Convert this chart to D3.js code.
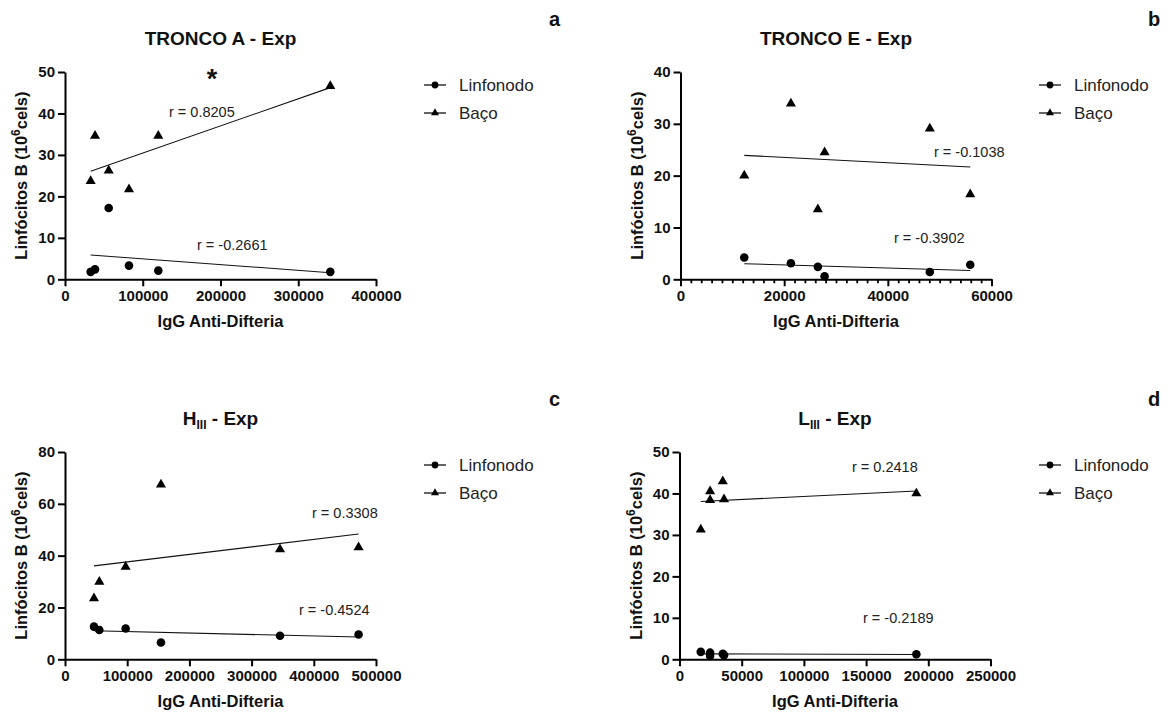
<!DOCTYPE html>
<html>
<head>
<meta charset="utf-8">
<script src="https://cdn.jsdelivr.net/npm/d3@7"></script>
<style>
  body { margin: 0; background: #fff; }
  svg { font-family: Arial, "Liberation Sans", sans-serif; }
</style>
</head>
<body>
<svg id="chart" width="1172" height="715"></svg>
<script>

// *** Data ***

var seriesNames = ["Linfonodo", "Baço"];
var xAxisTitle = "IgG Anti-Difteria";

// TRONCO A - Exp
var troncoA_x = [33000, 38600, 56200, 82300, 120000, 341200];
var troncoA_linfonodo = [1.8, 2.4, 17.2, 3.3, 2.1, 1.8];
var troncoA_baco = [23.7, 34.6, 26.2, 21.7, 34.6, 46.6];
var troncoA_r = [-0.2661, 0.8205];
var troncoA_xTicks = [0, 100000, 200000, 300000, 400000];
var troncoA_yTicks = [0, 10, 20, 30, 40, 50];

// TRONCO E - Exp
var troncoE_x = [12300, 21300, 26500, 27800, 48100, 55900];
var troncoE_linfonodo = [4.2, 3.1, 2.4, 0.6, 1.4, 2.8];
var troncoE_baco = [20.0, 33.9, 13.5, 24.5, 29.1, 16.4];
var troncoE_r = [-0.3902, -0.1038];
var troncoE_xTicks = [0, 20000, 40000, 60000];
var troncoE_xMinorStep = 2000;
var troncoE_yTicks = [0, 10, 20, 30, 40];

// H III - Exp
var h3_x = [46600, 55200, 97500, 154300, 345700, 472000];
var h3_linfonodo = [12.6, 11.3, 11.9, 6.5, 9.1, 9.6];
var h3_baco = [23.5, 29.9, 35.7, 67.4, 42.4, 43.2];
var h3_r = [-0.4524, 0.3308];
var h3_xTicks = [0, 100000, 200000, 300000, 400000, 500000];
var h3_yTicks = [0, 20, 40, 60, 80];

// L III - Exp
var l3_x = [17100, 24600, 24600, 34800, 35800, 190400];
var l3_linfonodo = [1.8, 1.6, 0.8, 1.3, 1.0, 1.2];
var l3_baco = [31.3, 40.5, 38.4, 42.9, 38.6, 40.0];
var l3_r = [-0.2189, 0.2418];
var l3_xTicks = [0, 50000, 100000, 150000, 200000, 250000];
var l3_yTicks = [0, 10, 20, 30, 40, 50];

// *** Helper Functions ***

// least squares fit, returns [slope, intercept]
function linear_fit(xs, ys) {
  var mx = d3.mean(xs), my = d3.mean(ys);
  var sxy = 0, sxx = 0;
  for (var i = 0; i < xs.length; i++) {
    sxy += (xs[i] - mx) * (ys[i] - my);
    sxx += (xs[i] - mx) * (xs[i] - mx);
  }
  var slope = sxy / sxx;
  return [slope, my - slope * mx];
}

function formatR(r) {
  return "r = " + r.toFixed(4);
}

var circleSymbol = d3.symbol().type(d3.symbolCircle).size(58);
var triangleSymbol = d3.symbol().type(d3.symbolTriangle).size(44);
var legendCircle = d3.symbol().type(d3.symbolCircle).size(36);
var legendTriangle = d3.symbol().type(d3.symbolTriangle).size(28);

// *** Panel drawing ***

var svg = d3.select("#chart");

function draw_panel(cfg) {
  var g = svg.append("g");

  var x = d3.scaleLinear().domain(cfg.xDomain).range([cfg.left, cfg.right]);
  var y = d3.scaleLinear().domain(cfg.yDomain).range([cfg.bottom, cfg.top]);

  // minor ticks (only on TRONCO E)
  if (cfg.xMinorStep) {
    var minor = d3.range(cfg.xDomain[0], cfg.xDomain[1] + 1, cfg.xMinorStep)
      .filter(v => cfg.xTicks.indexOf(v) < 0);
    g.append("g")
      .attr("transform", "translate(0," + cfg.bottom + ")")
      .call(d3.axisBottom(x).tickValues(minor).tickSize(4).tickFormat(""))
      .call(a => a.select(".domain").remove())
      .selectAll("line").attr("stroke", "#000").attr("stroke-width", 1.8);
  }

  var xAxisG = g.append("g")
    .attr("transform", "translate(0," + cfg.bottom + ")")
    .call(d3.axisBottom(x).tickValues(cfg.xTicks).tickSize(7).tickSizeOuter(0)
      .tickPadding(4).tickFormat(d3.format("d")));

  var yAxisG = g.append("g")
    .attr("transform", "translate(" + cfg.left + ",0)")
    .call(d3.axisLeft(y).tickValues(cfg.yTicks).tickSize(7).tickSizeOuter(0)
      .tickPadding(3).tickFormat(d3.format("d")));

  [xAxisG, yAxisG].forEach(function (a) {
    a.select(".domain").attr("stroke", "#000").attr("stroke-width", 2);
    a.selectAll(".tick line").attr("stroke", "#000").attr("stroke-width", 2);
    a.selectAll(".tick text")
      .attr("fill", "#111")
      .style("font-size", "15px")
      .style("font-weight", "bold")
      .style("font-family", "Arial, 'Liberation Sans', sans-serif");
  });

  // regression lines, then points
  var series = [
    {name: seriesNames[0], ys: cfg.linfonodo, symbol: circleSymbol, r: cfg.r[0], rPos: cfg.rPos[0]},
    {name: seriesNames[1], ys: cfg.baco, symbol: triangleSymbol, r: cfg.r[1], rPos: cfg.rPos[1]}
  ];

  series.forEach(function (s) {
    var fit = linear_fit(cfg.xs, s.ys);
    var x0 = d3.min(cfg.xs), x1 = d3.max(cfg.xs);
    g.append("line")
      .attr("x1", x(x0)).attr("y1", y(fit[0] * x0 + fit[1]))
      .attr("x2", x(x1)).attr("y2", y(fit[0] * x1 + fit[1]))
      .attr("stroke", "#111")
      .attr("stroke-width", 1.1);

    g.selectAll(null)
      .data(cfg.xs.map((v, i) => [v, s.ys[i]]))
      .enter().append("path")
      .attr("d", s.symbol)
      .attr("transform", d => "translate(" + x(d[0]) + "," + y(d[1]) + ")")
      .attr("fill", "#000");

    g.append("text")
      .attr("x", cfg.left + s.rPos[0])
      .attr("y", cfg.top + s.rPos[1])
      .attr("fill", "#222")
      .style("font-size", "14.5px")
      .text(formatR(s.r));
  });

  // title
  var title = g.append("text")
    .attr("x", (cfg.left + cfg.right) / 2)
    .attr("y", cfg.top - 27)
    .attr("text-anchor", "middle")
    .style("font-size", "19px")
    .style("font-weight", "bold")
    .attr("fill", "#111");
  title.append("tspan").text(cfg.title[0]);
  if (cfg.title[1]) {
    title.append("tspan")
      .attr("baseline-shift", "-30%")
      .style("font-size", "12px")
      .text(cfg.title[1]);
  }
  title.append("tspan").text(cfg.title[2]);

  // panel letter
  g.append("text")
    .attr("x", cfg.letterX)
    .attr("y", cfg.top - 46)
    .style("font-size", "20px")
    .style("font-weight", "bold")
    .attr("fill", "#111")
    .text(cfg.letter);

  // axis titles
  g.append("text")
    .attr("x", (cfg.left + cfg.right) / 2)
    .attr("y", cfg.bottom + 48)
    .attr("text-anchor", "middle")
    .style("font-size", "16.5px")
    .style("font-weight", "bold")
    .attr("fill", "#111")
    .text(xAxisTitle);

  var yTitle = g.append("text")
    .attr("transform", "translate(" + (cfg.left - 38) + "," + ((cfg.top + cfg.bottom) / 2) + ") rotate(-90)")
    .attr("text-anchor", "middle")
    .style("font-size", "16.5px")
    .style("font-weight", "bold")
    .attr("fill", "#111");
  yTitle.append("tspan").text("Linfócitos B (10");
  yTitle.append("tspan").attr("baseline-shift", "super").style("font-size", "12px").text("6");
  yTitle.append("tspan").text("cels)");

  // legend
  var legend = g.append("g");
  series.forEach(function (s, i) {
    var ly = cfg.top + 13 + i * 28;
    legend.append("line")
      .attr("x1", cfg.legendX).attr("x2", cfg.legendX + 22)
      .attr("y1", ly).attr("y2", ly)
      .attr("stroke", "#111").attr("stroke-width", 1.3);
    legend.append("path")
      .attr("d", i === 0 ? legendCircle : legendTriangle)
      .attr("transform", "translate(" + (cfg.legendX + 11) + "," + ly + ")")
      .attr("fill", "#000");
    legend.append("text")
      .attr("x", cfg.legendX + 35)
      .attr("y", ly + 6)
      .style("font-size", "17px")
      .attr("fill", "#222")
      .text(s.name);
  });

  return {g: g, x: x, y: y};
}

// *** Panels ***

var panelA = draw_panel({
  letter: "a", title: ["TRONCO A - Exp", "", ""],
  left: 65, right: 376, top: 72, bottom: 279.3,
  xDomain: [0, 400000], yDomain: [0, 50],
  xTicks: troncoA_xTicks, yTicks: troncoA_yTicks,
  xs: troncoA_x, linfonodo: troncoA_linfonodo, baco: troncoA_baco, r: troncoA_r,
  rPos: [[132, 178], [104, 45]],
  legendX: 424, letterX: 549
});

// significance mark
panelA.g.append("text")
  .attr("x", 212).attr("y", 88)
  .attr("text-anchor", "middle")
  .style("font-size", "27px")
  .style("font-weight", "bold")
  .attr("fill", "#111")
  .text("*");

draw_panel({
  letter: "b", title: ["TRONCO E - Exp", "", ""],
  left: 680.5, right: 991.5, top: 72, bottom: 279.3,
  xDomain: [0, 60000], yDomain: [0, 40],
  xTicks: troncoE_xTicks, yTicks: troncoE_yTicks, xMinorStep: troncoE_xMinorStep,
  xs: troncoE_x, linfonodo: troncoE_linfonodo, baco: troncoE_baco, r: troncoE_r,
  rPos: [[253.5 - 40, 171], [253.5, 85]],
  legendX: 1039, letterX: 1148
});

draw_panel({
  letter: "c", title: ["H", "III", " - Exp"],
  left: 65, right: 376, top: 452, bottom: 659.3,
  xDomain: [0, 500000], yDomain: [0, 80],
  xTicks: h3_xTicks, yTicks: h3_yTicks,
  xs: h3_x, linfonodo: h3_linfonodo, baco: h3_baco, r: h3_r,
  rPos: [[234, 163], [247, 66]],
  legendX: 424, letterX: 549
});

draw_panel({
  letter: "d", title: ["L", "III", " - Exp"],
  left: 679.5, right: 990.5, top: 452, bottom: 659.3,
  xDomain: [0, 250000], yDomain: [0, 50],
  xTicks: l3_xTicks, yTicks: l3_yTicks,
  xs: l3_x, linfonodo: l3_linfonodo, baco: l3_baco, r: l3_r,
  rPos: [[183.5, 171], [172.5, 20]],
  legendX: 1039, letterX: 1148
});

</script>
</body>
</html>
